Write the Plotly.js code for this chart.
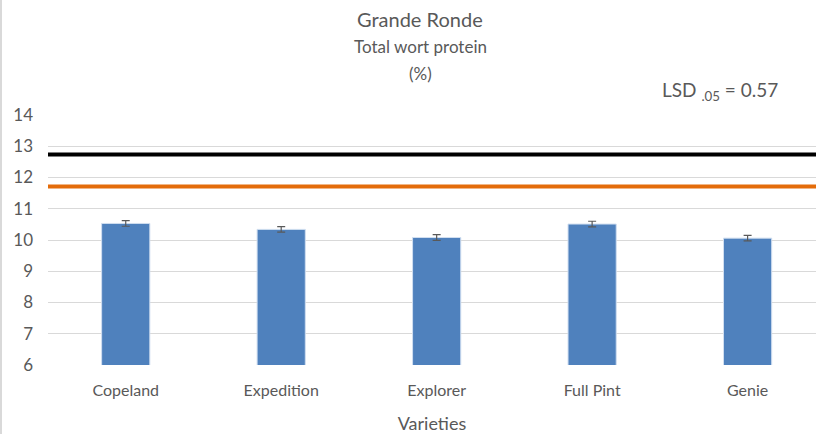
<!DOCTYPE html>
<html lang="en">
<head>
  <meta charset="UTF-8">
  <title>Grande Ronde - Total wort protein</title>
  <script src="https://cdn.plot.ly/plotly-3.0.1.min.js"></script>
  <style>
    body { margin: 0; background: #fff; overflow: hidden; }
    #chart { width: 816px; height: 434px; border-left: 2px solid #d9d9d9; box-sizing: border-box; }
  </style>
</head>
<body>
  <div id="chart"></div>
  <script>
    // valores
    const varieties = ['Copeland', 'Expedition', 'Explorer', 'Full Pint', 'Genie'];
    const protein = [10.53, 10.34, 10.08, 10.51, 10.06];
    const proteinErr = [0.09, 0.09, 0.09, 0.09, 0.09];
    const refLines = [12.74, 11.71];
    const refColors = ['#000000', '#e46c0a'];
    const yTicks = [6, 7, 8, 9, 10, 11, 12, 13, 14];

    const grey = '#595959';
    const font = 'Lato, "Open Sans", sans-serif';

    const bars = {
      type: 'bar',
      x: varieties,
      y: protein,
      width: 0.31,
      marker: { color: '#4f81bd', line: { color: '#d0def0', width: 1 } },
      error_y: { type: 'data', array: proteinErr, visible: true, color: grey, thickness: 1.2, width: 4 },
      hoverinfo: 'x+y'
    };

    const shapes = refLines.map((v, i) => ({
      type: 'line', xref: 'paper', yref: 'y',
      x0: 0, x1: 1, y0: v, y1: v,
      line: { color: refColors[i], width: 4 }
    }));

    const layout = {
      width: 814, height: 434,
      margin: { l: 46, r: 0, t: 115, b: 69 },
      paper_bgcolor: '#fff', plot_bgcolor: '#fff',
      font: { family: font, color: grey },
      showlegend: false,
      bargap: 0,
      xaxis: {
        type: 'category',
        range: [-0.5, 4.44],
        showgrid: false, zeroline: false, showline: false,
        ticks: '', tickfont: { size: 16, color: grey },
        ticklabelstandoff: 14,
        title: { text: 'Varieties', font: { size: 18, color: grey }, standoff: 22 }
      },
      yaxis: {
        range: [6, 14],
        tickvals: yTicks,
        showgrid: true, gridcolor: '#d9d9d9', gridwidth: 1,
        zeroline: false, showline: false, ticks: '',
        ticklabelstandoff: 14,
        tickfont: { size: 17, color: grey }
      },
      shapes: shapes,
      annotations: [
        { text: 'Grande Ronde', xref: 'paper', yref: 'paper', x: 0.485, y: 1, yshift: 110,
          showarrow: false, font: { size: 20, color: grey } },
        { text: 'Total wort protein', xref: 'paper', yref: 'paper', x: 0.485, y: 1, yshift: 81,
          showarrow: false, font: { size: 17, color: grey } },
        { text: '(%)', xref: 'paper', yref: 'paper', x: 0.485, y: 1, yshift: 54,
          showarrow: false, font: { size: 17, color: grey } },
        { text: 'LSD <sub>.05</sub> = 0.57', xref: 'paper', yref: 'paper', x: 0.797, xanchor: 'left',
          y: 1, yshift: 39, showarrow: false, font: { size: 19, color: grey } }
      ]
    };

    Plotly.newPlot('chart', [bars], layout, { displayModeBar: false, staticPlot: true });
  </script>
</body>
</html>
